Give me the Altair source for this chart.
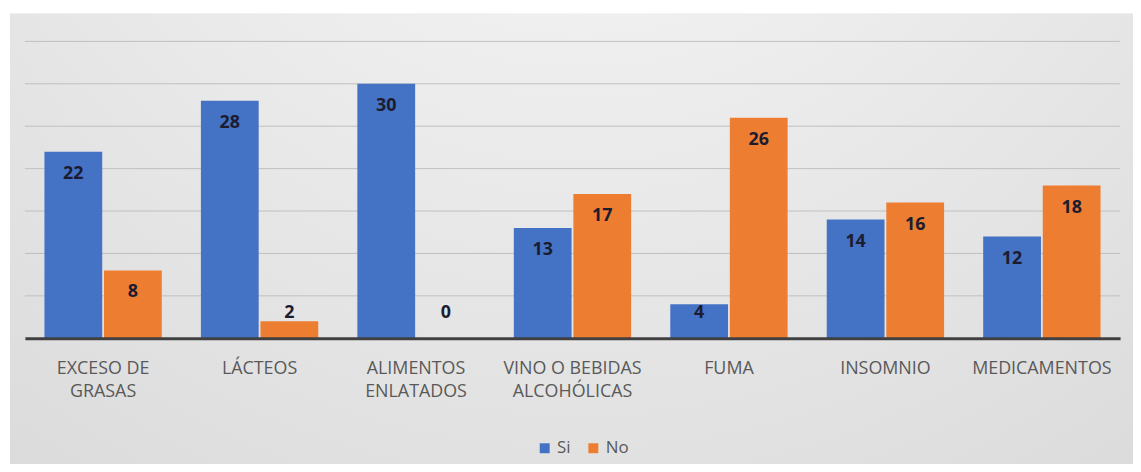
import altair as alt
import pandas as pd

categories = ["EXCESO DE\nGRASAS", "LÁCTEOS", "ALIMENTOS\nENLATADOS", "VINO O BEBIDAS\nALCOHÓLICAS",
              "FUMA", "INSOMNIO", "MEDICAMENTOS"]
series = ["Si", "No"]
si_values = [22, 28, 30, 13, 4, 14, 12]
no_values = [8, 2, 0, 17, 26, 16, 18]
grid_values = [5, 10, 15, 20, 25, 30, 35]
colors = ["#4472C4", "#ED7D31"]

rows = []
for c, s, n in zip(categories, si_values, no_values):
    rows.append({"cat": c, "serie": "Si", "value": s})
    rows.append({"cat": c, "serie": "No", "value": n})
df = pd.DataFrame(rows)

W, H = 1103, 299

bg = alt.Chart(pd.DataFrame({"a": [0]})).mark_rect().encode(
    x=alt.value(-15), x2=alt.value(W + 30),
    y=alt.value(-28), y2=alt.value(H + 140),
    color=alt.value({
        "gradient": "radial",
        "x1": 0.5, "y1": 0.0, "r1": 0.0,
        "x2": 0.5, "y2": 0.0, "r2": 1.0,
        "stops": [
            {"offset": 0.0, "color": "#fafafa"},
            {"offset": 0.55, "color": "#e6e6e6"},
            {"offset": 1.0, "color": "#d6d6d6"},
        ],
    }),
)

yscale = alt.Scale(domain=[0, 35])

grid = alt.Chart(pd.DataFrame({"g": grid_values})).mark_rule(color="#c0c0c0", strokeWidth=1).encode(
    y=alt.Y("g:Q", scale=yscale, axis=None),
)

xenc = alt.X("cat:N", sort=categories, title=None,
             scale=alt.Scale(paddingInner=0.25, paddingOuter=0.125),
             axis=alt.Axis(labelExpr="split(datum.label, '\\n')", labelAngle=0,
                           labelFontSize=18, labelColor="#595959", labelFont="Open Sans",
                           labelLineHeight=24, labelPadding=21, ticks=False,
                           domainColor="#404040", domainWidth=3, zindex=1))
xoff = alt.XOffset("serie:N", sort=series, scale=alt.Scale(paddingInner=0.03))

bars = alt.Chart(df).mark_bar().encode(
    x=xenc,
    xOffset=xoff,
    y=alt.Y("value:Q", title=None, scale=yscale, axis=None),
    color=alt.Color("serie:N", sort=series, scale=alt.Scale(domain=series, range=colors),
                    legend=alt.Legend(title=None, orient="none", legendX=515, legendY=401,
                                      direction="horizontal",
                                      symbolType="square", symbolSize=100, labelFontSize=17,
                                      labelColor="#595959", labelFont="Open Sans",
                                      columnPadding=14, symbolStrokeWidth=0, labelOffset=4)),
)

labels = alt.Chart(df).transform_calculate(
    pos="max(datum.value - 2.6, 3)"
).mark_text(fontSize=18, fontWeight="bold", color="#1c1c30", baseline="middle",
            font="Open Sans").encode(
    x=alt.X("cat:N", sort=categories),
    xOffset=xoff,
    y=alt.Y("pos:Q", scale=yscale, axis=None),
    text=alt.Text("value:Q"),
)

chart = alt.layer(bg, grid, bars, labels).properties(
    width=W, height=H,
    autosize=alt.AutoSizeParams(type="none"),
    padding={"left": 17, "top": 32, "right": 13, "bottom": 125},
    background="white",
).configure_view(stroke=None)

chart.save("out.html", embed_options={"renderer": "svg", "actions": False})
